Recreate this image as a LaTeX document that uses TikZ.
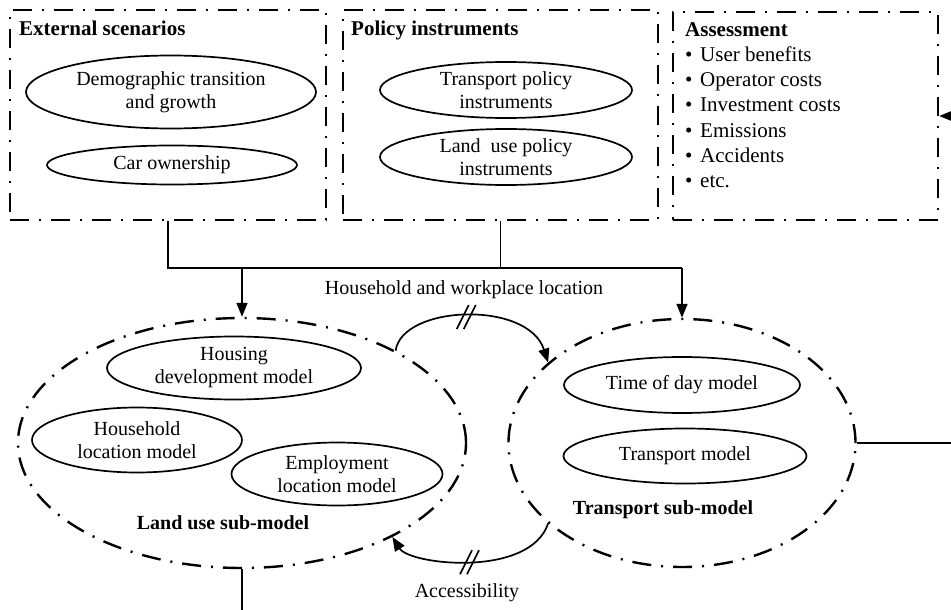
\documentclass[tikz,border=0pt]{standalone}
\usepackage{fontspec}
\setmainfont{Liberation Serif}
\usetikzlibrary{shapes.geometric,arrows.meta}

\begin{document}
\begin{tikzpicture}[x=1pt, y=-1pt,
  every node/.style={font=\fontsize{20}{23}\selectfont, inner sep=0pt},
  dashdot/.style={line width=2.4pt, dash pattern=on 19pt off 10pt on 2pt off 10pt},
  group/.style={rectangle, draw, dashdot},
  submodel/.style={ellipse, draw, dashdot},
  model/.style={ellipse, draw, line width=1.7pt, align=center},
  heading/.style={font=\fontsize{21}{24}\selectfont\bfseries, anchor=base west},
  sublabel/.style={font=\fontsize{20}{23}\selectfont\bfseries},
  link/.style={line width=1.7pt},
  arr/.style={link, -{Triangle[length=14pt,width=11pt]}}]
\useasboundingbox (0,0) rectangle (951,610);
% top row
\node (ext) [group, minimum width=316pt, minimum height=210pt] at (168,115) {};
\node (pol) [group, minimum width=315pt, minimum height=210pt] at (500.5,115) {};
\node (ass) [group, minimum width=265pt, minimum height=208pt] at (805.5,116) {};
\node (extT) [heading] at (19,36) {External scenarios};
\node (polT) [heading] at (351,36) {Policy instruments};
\node (demo) [model, minimum width=290pt, minimum height=73pt] at (171,92) {Demographic transition\\and growth};
\node (car) [model, minimum width=250pt, minimum height=39pt] at (172,165) {Car ownership};
\node (tpi) [model, minimum width=252pt, minimum height=56pt] at (506,90) {Transport policy\\instruments};
\node (lpi) [model, minimum width=252pt, minimum height=56pt] at (506,157) {Land\ \ use policy\\instruments};
\node (assT) [anchor=north west, align=left, font=\fontsize{21}{25.3}\selectfont] at (685,22)
  {\textbf{Assessment}\\
   \makebox[15pt][l]{\textbullet}User benefits\\
   \makebox[15pt][l]{\textbullet}Operator costs\\
   \makebox[15pt][l]{\textbullet}Investment costs\\
   \makebox[15pt][l]{\textbullet}Emissions\\
   \makebox[15pt][l]{\textbullet}Accidents\\
   \makebox[15pt][l]{\textbullet}etc.};
% sub-models
\node (lu) [submodel, minimum width=448pt, minimum height=250pt] at (242,443) {};
\node (tr) [submodel, minimum width=347pt, minimum height=248pt] at (682,443) {};
\node (house) [model, minimum width=254pt, minimum height=63pt] at (234,368) {Housing\\development model};
\node (hhloc) [model, minimum width=210pt, minimum height=65pt] at (137,440) {Household\\location model};
\node (emp) [model, minimum width=211pt, minimum height=63pt] at (337,474) {Employment\\location model};
\node (luT) [sublabel] at (223,523) {Land use sub-model};
\node (tod) [model, minimum width=236pt, minimum height=56pt] at (682,385) {Time of day model};
\node (tm) [model, minimum width=243pt, minimum height=55pt] at (685,456) {Transport model};
\node (trT) [sublabel] at (663,510) {Transport sub-model};
% connectors
\coordinate (bus) at (0,268);
\draw[link] (ext.south) -- (ext.south |- bus) -- (tr.north |- bus);
\draw[link] (pol.south) -- (pol.south |- bus);
\draw[arr] (lu.north |- bus) -- (lu.north);
\draw[arr] (tr.north |- bus) -- (tr.north);
\node (hwT) at (464,290) {Household and workplace location};
\draw[arr] (lu.31) .. controls (402,305) and (528,300) .. (tr.149) coordinate[pos=0.5] (hw);
\draw[link] ([shift={(-10,13)}]hw) -- ([shift={(2,-11)}]hw);
\draw[link] ([shift={(-3,13)}]hw) -- ([shift={(9,-11)}]hw);
\draw[arr] (tr.211) .. controls (530,578) and (410,565) .. (lu.328) coordinate[pos=0.5] (acc);
\draw[link] ([shift={(-10,13)}]acc) -- ([shift={(2,-11)}]acc);
\draw[link] ([shift={(-3,13)}]acc) -- ([shift={(9,-11)}]acc);
\node (accT) at (467,593) {Accessibility};
% leaving the picture
\coordinate (assIn) at (951,116);
\draw[arr] (assIn) -- (ass.east);
\coordinate (trOut) at (951,443);
\draw[link] (tr.east) -- (trOut);
\coordinate (luOut) at (242,610);
\draw[link] (lu.south) -- (luOut);
\end{tikzpicture}
\end{document}
